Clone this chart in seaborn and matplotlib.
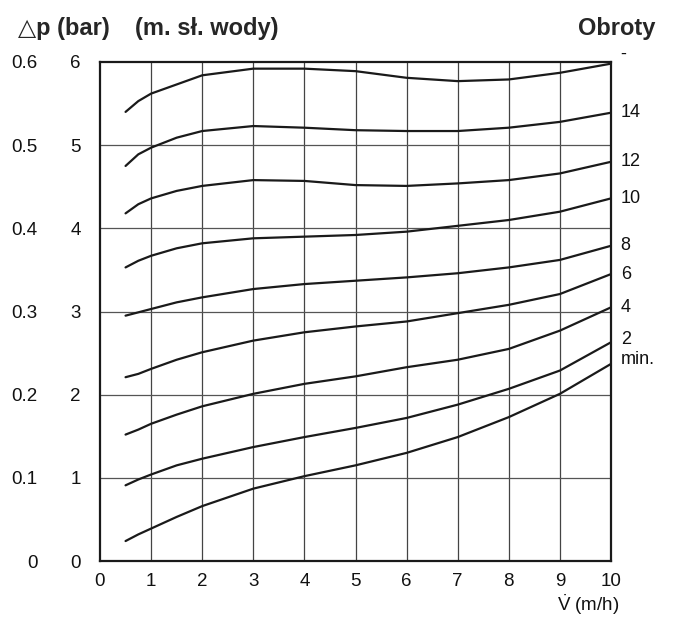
import numpy as np
import pandas as pd
import matplotlib
matplotlib.use('Agg')
import matplotlib.pyplot as plt
import seaborn as sns

# Flow rate V (m3/h) and pressure drop curves in metres of water column
flow = [0.5, 0.75, 1, 1.5, 2, 3, 4, 5, 6, 7, 8, 9, 10]
speed_labels = ['-', '14', '12', '10', '8', '6', '4', '2', 'min.']
curve_top = [5.40, 5.53, 5.62, 5.73, 5.84, 5.92, 5.92, 5.89, 5.81, 5.77, 5.79, 5.87, 5.98]
curve_14 = [4.75, 4.89, 4.97, 5.09, 5.17, 5.23, 5.21, 5.18, 5.17, 5.17, 5.21, 5.28, 5.39]
curve_12 = [4.18, 4.29, 4.36, 4.45, 4.51, 4.58, 4.57, 4.52, 4.51, 4.54, 4.58, 4.66, 4.80]
curve_10 = [3.53, 3.61, 3.67, 3.76, 3.82, 3.88, 3.90, 3.92, 3.96, 4.03, 4.10, 4.20, 4.36]
curve_8 = [2.95, 2.99, 3.03, 3.11, 3.17, 3.27, 3.33, 3.37, 3.41, 3.46, 3.53, 3.62, 3.79]
curve_6 = [2.21, 2.25, 2.31, 2.42, 2.51, 2.65, 2.75, 2.82, 2.88, 2.98, 3.08, 3.21, 3.45]
curve_4 = [1.52, 1.58, 1.65, 1.76, 1.86, 2.01, 2.13, 2.22, 2.33, 2.42, 2.55, 2.77, 3.05]
curve_2 = [0.91, 0.98, 1.04, 1.15, 1.23, 1.37, 1.49, 1.60, 1.72, 1.88, 2.07, 2.29, 2.63]
curve_min = [0.24, 0.32, 0.39, 0.53, 0.66, 0.87, 1.02, 1.15, 1.30, 1.49, 1.73, 2.01, 2.37]
curves = [curve_top, curve_14, curve_12, curve_10, curve_8,
          curve_6, curve_4, curve_2, curve_min]

x_ticks = list(range(0, 11))
m_ticks = list(range(0, 7))
bar_ticks = [0, 0.1, 0.2, 0.3, 0.4, 0.5, 0.6]
bar_labels = ['0', '0.1', '0.2', '0.3', '0.4', '0.5', '0.6']

# long-form table for seaborn
rows = []
for lab, vals in zip(speed_labels, curves):
    for xv, yv in zip(flow, vals):
        rows.append({'flow': xv, 'dp': yv, 'speed': lab})
df = pd.DataFrame(rows)

sns.set_style('white')
narrow = ['Liberation Sans Narrow', 'Liberation Sans', 'DejaVu Sans']
bold_fam = ['Liberation Sans', 'DejaVu Sans']
plt.rcParams['font.family'] = narrow
plt.rcParams['mathtext.fontset'] = 'custom'
plt.rcParams['mathtext.rm'] = 'Liberation Sans'

fig = plt.figure(figsize=(6.74, 6.19), dpi=100)
ax = fig.add_axes([100 / 674, 1 - 561 / 619, 511 / 674, 499 / 619])

sns.lineplot(data=df, x='flow', y='dp', hue='speed', units='speed',
             estimator=None, sort=False, palette=['#1a1a1a'] * len(speed_labels),
             linewidth=1.6, legend=False, ax=ax)
for ln in ax.lines:
    ln.set_solid_joinstyle('round')

ax.set_xlim(0, 10)
ax.set_ylim(0, 6)
ax.set_xticks(x_ticks)
ax.set_yticks(m_ticks)
ax.set_xticklabels([str(v) for v in x_ticks])
ax.set_yticklabels([str(v) for v in m_ticks])
ax.tick_params(length=0, labelsize=13.5, colors='#111111')
ax.tick_params(axis='x', pad=9)
ax.tick_params(axis='y', pad=14)
ax.set_xlabel('')
ax.set_ylabel('')

for v in x_ticks[1:-1]:
    ax.axvline(v, color='#444444', lw=0.9, zorder=0)
for v in m_ticks[1:-1]:
    ax.axhline(v, color='#555555', lw=0.9, zorder=0)
for s in ax.spines.values():
    s.set_visible(True)
    s.set_color('#1a1a1a')
    s.set_linewidth(1.6)

# bar scale on the far left
sec = ax.secondary_yaxis('left', functions=(lambda m: m / 10, lambda b: b * 10))
sec.set_yticks(bar_ticks)
sec.set_yticklabels(bar_labels)
sec.tick_params(length=0, pad=45, labelsize=13.5, colors='#111111')
sec.spines['left'].set_visible(False)

# speed labels at curve ends
offsets = {'-': 7, '2': 2, 'min.': 3}
for lab, vals in zip(speed_labels, curves):
    dy = offsets.get(lab, 0)
    ax.annotate(lab, xy=(10, vals[-1]), xytext=(7, dy), textcoords='offset points',
                ha='left', va='center', fontsize=13, color='#111111',
                annotation_clip=False)

# headers
fig.text(18 / 674, 1 - 28 / 619, '△p (bar)', fontsize=17, fontweight='bold',
         family=bold_fam, va='center', ha='left')
fig.text(135 / 674, 1 - 28 / 619, '(m. sł. wody)', fontsize=17, fontweight='bold',
         family=bold_fam, va='center', ha='left')
fig.text(655 / 674, 1 - 28 / 619, 'Obroty', fontsize=17, fontweight='bold',
         family=bold_fam, va='center', ha='right')

# x axis label, V with the flow-rate dot
fig.text(588 / 674, 1 - 611 / 619, r'$\dot{\mathrm{V}}$ (m/h)', fontsize=13.5,
         va='baseline', ha='center', color='#111111')

plt.savefig('out.png', dpi=100)
